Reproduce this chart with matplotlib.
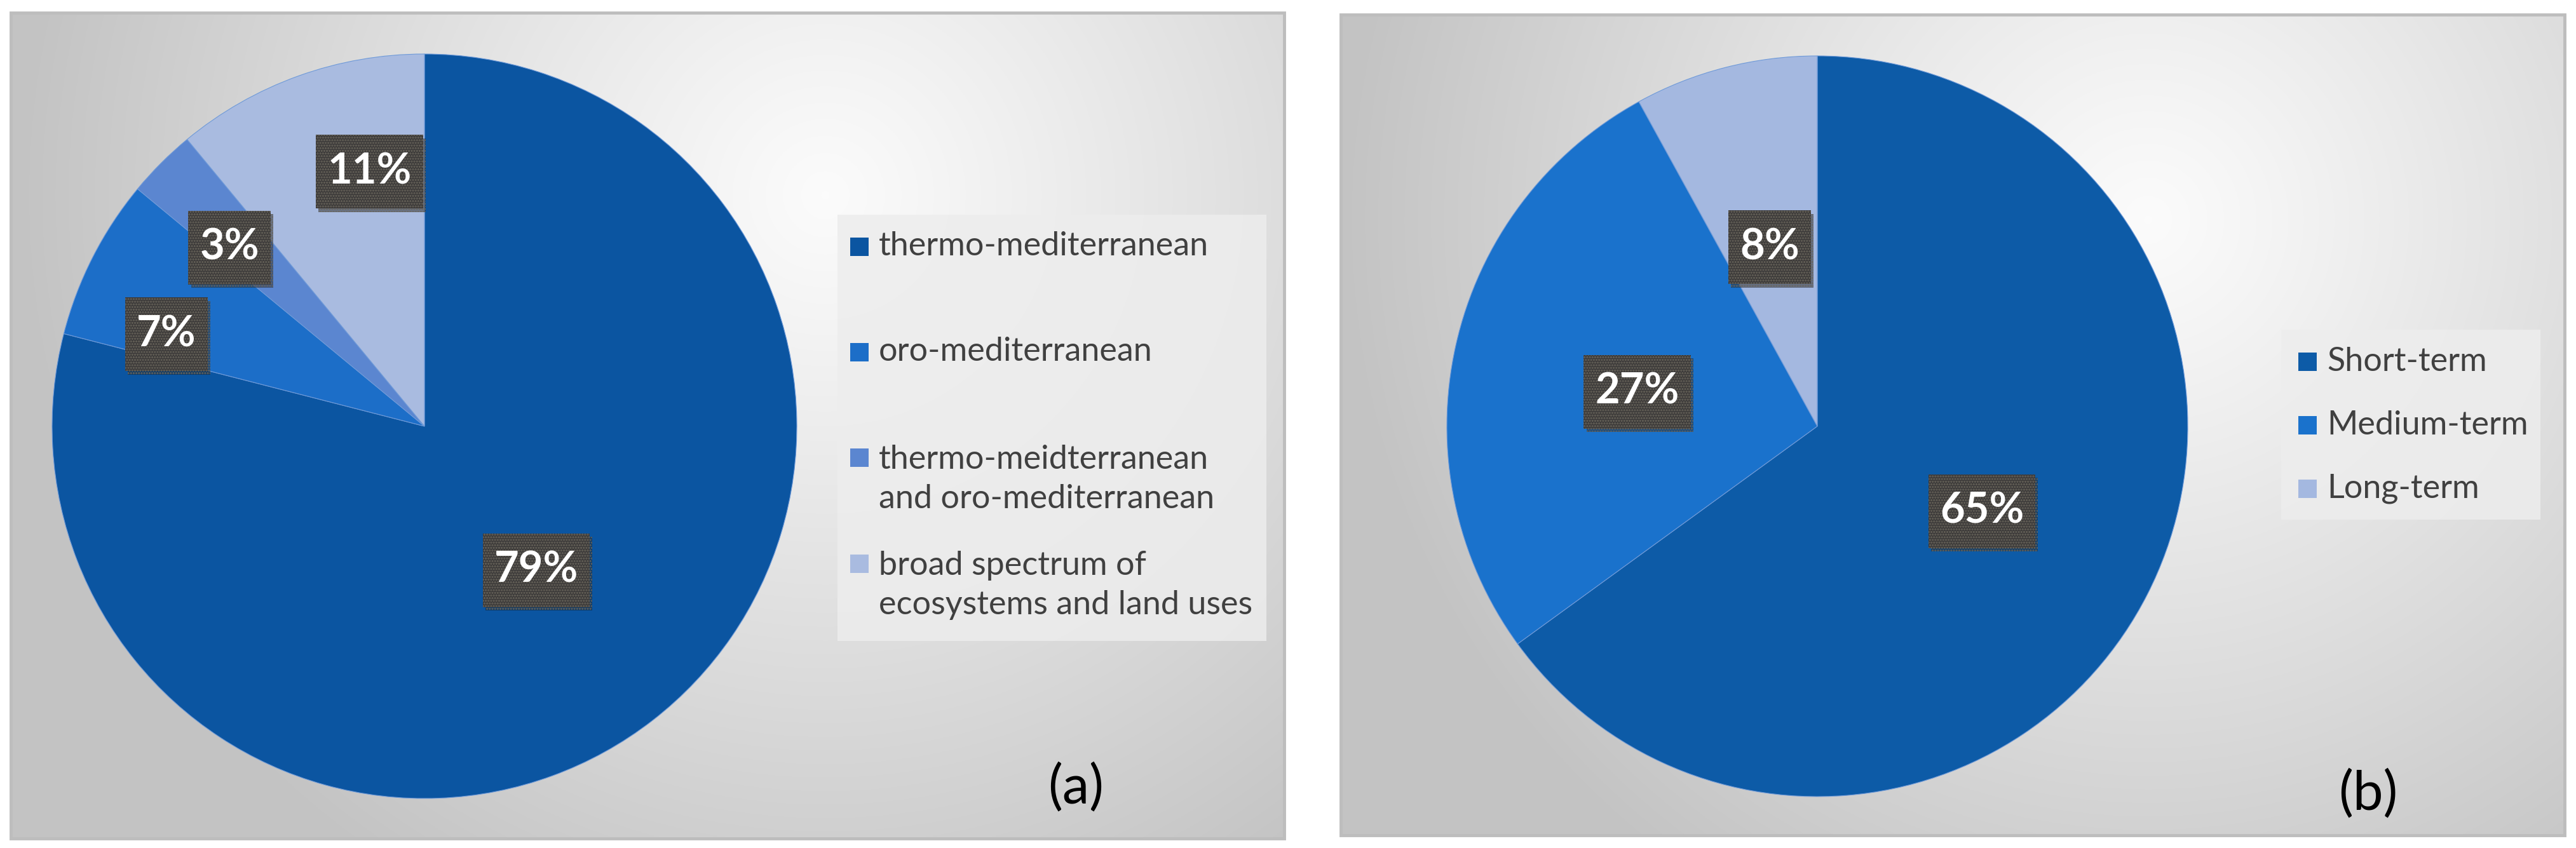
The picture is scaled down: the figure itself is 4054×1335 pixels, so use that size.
import numpy as np
import matplotlib
matplotlib.use("Agg")
import matplotlib.pyplot as plt
from matplotlib.patches import Rectangle
import matplotlib.patheffects as pe

# ---------------- data ----------------
zones = ["thermo-mediterranean", "oro-mediterranean",
         "thermo-meidterranean\nand oro-mediterranean",
         "broad spectrum of\necosystems and land uses"]
zone_pct = [79, 7, 3, 11]

terms = ["Short-term", "Medium-term", "Long-term"]
term_pct = [65, 27, 8]

panel_tags = ["(a)", "(b)"]

# ---------------- style ----------------
colors_a = ["#0b55a1", "#1c6ec8", "#5b86d0", "#a9bbe0"]
colors_b = ["#0d5ba7", "#1a72cc", "#a4b8e0"]
W, H = 4055, 1335
plt.rcParams['hatch.linewidth'] = 1.6
FONT = ["Lato", "DejaVu Sans"]

fig = plt.figure(figsize=(W / 100, H / 100), dpi=100)
fig.patch.set_facecolor("white")
renderer = fig.canvas.get_renderer()


def fit_size(text, target_px, weight="normal", base=30.0):
    t = fig.text(0, 0, text, fontsize=base, fontweight=weight, family=FONT)
    w = t.get_window_extent(renderer=renderer).width
    t.remove()
    return base * target_px / w


LABEL_FS = fit_size("79%", 132, weight="bold")
LEGEND_FS = fit_size("thermo-mediterranean", 519)
TAG_FS = fit_size("(a)", 88)


def add_axes_px(x0, y0, x1, y1, **kw):
    return fig.add_axes([x0 / W, 1 - y1 / H, (x1 - x0) / W, (y1 - y0) / H], **kw)


def panel_bg(x0, y0, x1, y1, cx, cy):
    ax = add_axes_px(x0, y0, x1, y1)
    w, h = x1 - x0, y1 - y0
    xs = np.linspace(0, 1, 400)
    ys = np.linspace(0, 1, 300)
    X, Y = np.meshgrid(xs, ys)
    d = np.sqrt(((X - cx) * w / 1500) ** 2 + ((Y - cy) * h / 1500) ** 2)
    d = np.clip(d / 0.85, 0, 1)
    v = 0.985 - (0.985 - 0.765) * d ** 1.1
    img = np.dstack([v, v, v])
    ax.imshow(img, extent=[0, 1, 0, 1], origin="upper", aspect="auto",
              interpolation="bilinear")
    ax.set_xlim(0, 1)
    ax.set_ylim(0, 1)
    ax.add_patch(Rectangle((0, 0), 1, 1, transform=ax.transAxes, fill=False,
                           ec="#bdbdbd", lw=3.5, clip_on=False))
    ax.axis("off")
    return ax


def draw_pie(cx, cy, r, values, colors, dists, nudges):
    ax = add_axes_px(cx - r, cy - r, cx + r, cy + r)
    wedges, _ = ax.pie(values, colors=colors, startangle=90, counterclock=False,
                       radius=1, wedgeprops=dict(linewidth=0.8, edgecolor="#6f9ad8"))
    ax.set_xlim(-1, 1)
    ax.set_ylim(-1, 1)
    ax.set_aspect("equal")
    ax.axis("off")
    padx, box_h = 18, 116
    for wdg, v, dist, nud in zip(wedges, values, dists, nudges):
        ang = np.deg2rad((wdg.theta1 + wdg.theta2) / 2 + nud)
        x, y = dist * np.cos(ang), dist * np.sin(ang)
        t = ax.text(x, y, f"{v}%", ha="center", va="center", color="white",
                    fontsize=LABEL_FS, fontweight="bold", family=FONT, zorder=5)
        tw = t.get_window_extent(renderer=renderer).width
        bw = (tw + 2 * padx) / r
        bh = box_h / r
        rect = Rectangle((x - bw / 2, y - bh / 2), bw, bh, fc="#3a3838",
                         ec="#6a665c", lw=0, hatch="....", zorder=4)
        rect.set_path_effects(
            [pe.SimplePatchShadow(offset=(3, -4), alpha=0.45, shadow_rgbFace="#1a1a1a"),
             pe.Normal()])
        ax.add_patch(rect)
    return ax


def draw_legend(box, sq_x, txt_x, rows, labels, colors, linesp):
    bx0, by0, bx1, by1 = box
    ax = add_axes_px(0, 0, W, H)
    ax.set_xlim(0, W)
    ax.set_ylim(H, 0)
    ax.axis("off")
    ax.patch.set_alpha(0)
    ax.add_patch(Rectangle((bx0, by0), bx1 - bx0, by1 - by0, fc="#ededed",
                           ec="none", alpha=0.85))
    sq = 29
    for lab, col, ys in zip(labels, colors, rows):
        ax.add_patch(Rectangle((sq_x, ys[0] - sq / 2), sq, sq, fc=col, ec="none"))
        ax.text(txt_x, (ys[0] + ys[-1]) / 2, lab, ha="left", va="center",
                fontsize=LEGEND_FS, color="#404040", family=FONT, linespacing=linesp)


# ---------------- panel (a) ----------------
panel_bg(17, 20, 2021, 1320, 0.64, 0.22)
draw_pie(668, 671, 586, zone_pct, colors_a,
         dists=[0.49, 0.736, 0.71, 0.70], nudges=[0, 7.4, 2.5, -7.6])
draw_legend((1318, 338, 1993, 1009), 1338, 1383,
            [[388], [554], [720, 789], [887, 956]], zones, colors_a, linesp=1.42)
fig.text(1693 / W, 1 - 1240 / H, panel_tags[0], ha="center", va="center",
         fontsize=TAG_FS, color="black", family=FONT)

# ---------------- panel (b) ----------------
panel_bg(2110, 23, 4036, 1315, 0.66, 0.25)
draw_pie(2860, 671, 583, term_pct, colors_b,
         dists=[0.50, 0.495, 0.50], nudges=[-0.3, 1.8, 0.5])
draw_legend((3590, 519, 3998, 818), 3617, 3662,
            [[569], [669], [769]], terms, colors_b, linesp=1.42)
fig.text(3727 / W, 1 - 1250 / H, panel_tags[1], ha="center", va="center",
         fontsize=TAG_FS, color="black", family=FONT)

fig.savefig("out.png", dpi=100, facecolor="white")
